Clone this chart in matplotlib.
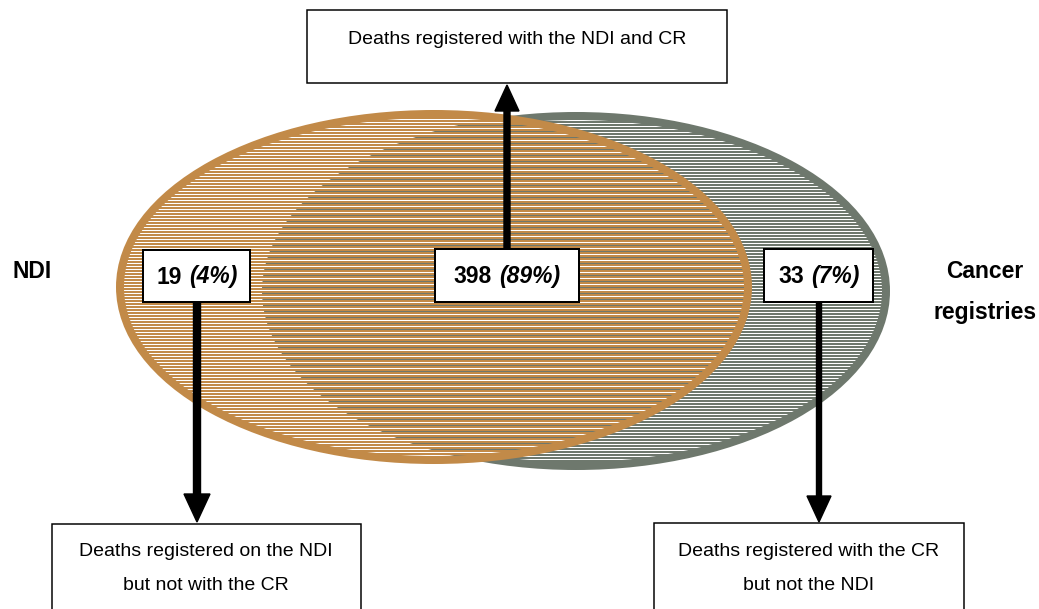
import numpy as np
import matplotlib
matplotlib.use("Agg")
from matplotlib import pyplot as plt
from matplotlib.colors import to_rgba
from matplotlib.patches import Ellipse, Rectangle

plt.rcParams['font.family'] = ['Liberation Sans', 'DejaVu Sans']

# data
set_names = ["NDI", "Cancer", "registries"]
counts = [19, 398, 33]
percents = [4, 89, 7]
desc_ndi_only = ["Deaths registered on the NDI", "but not with the CR"]
desc_both = "Deaths registered with the NDI and CR"
desc_cr_only = ["Deaths registered with the CR", "but not the NDI"]

brown = "#C28A48"
grey = "#6E786D"
px = 0.72  # points per pixel at 100 dpi
W, H = 1039, 609

fig = plt.figure(figsize=(W / 100, H / 100), dpi=100)
ax = fig.add_axes([0, 0, 1, 1])

# the two sets (pixel layout)
e_grey = Ellipse((576, 291), 620, 350, facecolor="white", edgecolor=grey, lw=8 * px, zorder=1)
e_brown = Ellipse((434, 287), 628, 346, facecolor="none", edgecolor=brown, lw=8 * px, zorder=4)
ax.add_patch(e_grey)
ax.add_patch(e_brown)


# horizontal stripe textures
def stripes(color, keep):
    r = np.arange(H)[:, None]
    img = np.zeros((H, W, 4))
    img[np.broadcast_to(keep(r), (H, W))] = to_rgba(color)
    return img


tex = dict(interpolation="nearest", extent=(0, W, H, 0), aspect="auto")
im = ax.imshow(stripes(grey, lambda r: r % 3 != 0), zorder=2, **tex)
im.set_clip_path(e_grey)
im = ax.imshow(stripes("white", lambda r: (r % 3 == 2) & ((r // 3) % 2 == 0)), zorder=2.5, **tex)
im.set_clip_path(e_brown)
im = ax.imshow(stripes(brown, lambda r: r % 3 != 2), zorder=3, **tex)
im.set_clip_path(e_brown)

ax.set_xlim(0, W)
ax.set_ylim(H, 0)
ax.axis("off")

renderer = fig.canvas.get_renderer()


def value_box(cx, x0, x1, y0, y1, n, p):
    ax.add_patch(Rectangle((x0, y0), x1 - x0, y1 - y0, facecolor="white",
                           edgecolor="black", lw=2 * px, zorder=6))
    cy = (y0 + y1) / 2 + 1
    t1 = ax.text(0, cy, str(n), fontsize=16.5, weight="bold", va="center", ha="left", zorder=7)
    t2 = ax.text(0, cy, "(%d%%)" % p, fontsize=16.5, weight="bold", style="italic",
                 va="center", ha="left", zorder=7)
    w1 = t1.get_window_extent(renderer).width
    w2 = t2.get_window_extent(renderer).width
    gap = 7
    start = cx - (w1 + gap + w2) / 2
    t1.set_x(start)
    t2.set_x(start + w1 + gap)


value_box(197, 143, 250, 250, 302, counts[0], percents[0])
value_box(507, 435, 579, 249, 302, counts[1], percents[1])
value_box(819, 764, 873, 249, 302, counts[2], percents[2])

# description boxes
ax.add_patch(Rectangle((307, 10), 420, 73, facecolor="white", edgecolor="black", lw=1.5 * px, zorder=6))
ax.text(517, 39, desc_both, fontsize=14, ha="center", va="center", zorder=7)

ax.add_patch(Rectangle((52, 524), 309, 100, facecolor="white", edgecolor="black", lw=1.5 * px, zorder=6))
ax.text(206, 551, desc_ndi_only[0], fontsize=14, ha="center", va="center", zorder=7)
ax.text(206, 586, desc_ndi_only[1], fontsize=14, ha="center", va="center", zorder=7)

ax.add_patch(Rectangle((654, 523), 310, 100, facecolor="white", edgecolor="black", lw=1.5 * px, zorder=6))
ax.text(809, 551, desc_cr_only[0], fontsize=14, ha="center", va="center", zorder=7)
ax.text(809, 586, desc_cr_only[1], fontsize=14, ha="center", va="center", zorder=7)

# arrows
ax.arrow(507, 249, 0, 85 - 249, width=6, head_width=24, head_length=26,
         length_includes_head=True, color="black", zorder=5)
ax.arrow(197, 302, 0, 522 - 302, width=7, head_width=26, head_length=28,
         length_includes_head=True, color="black", zorder=5)
ax.arrow(819, 302, 0, 522 - 302, width=5, head_width=24, head_length=26,
         length_includes_head=True, color="black", zorder=5)

# set names
ax.text(32, 271, set_names[0], fontsize=16.5, weight="bold", ha="center", va="center")
ax.text(985, 271, set_names[1], fontsize=16.5, weight="bold", ha="center", va="center")
ax.text(985, 312, set_names[2], fontsize=16.5, weight="bold", ha="center", va="center")

fig.savefig("out.png", dpi=100)
